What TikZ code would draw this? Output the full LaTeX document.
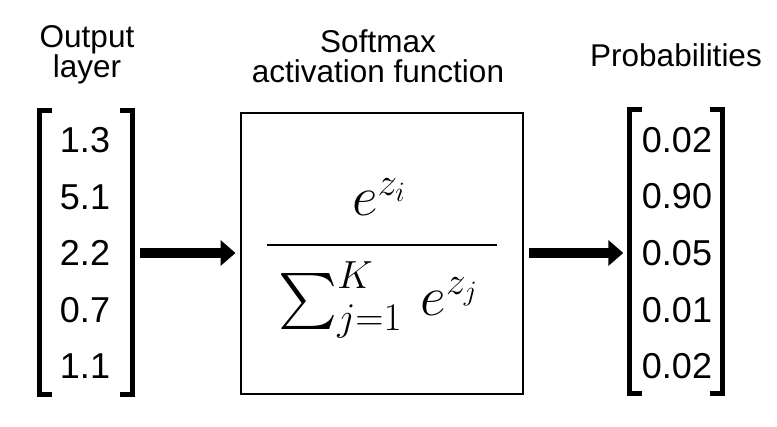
\RequirePackage{fix-cm}
\documentclass[tikz,border=0pt]{standalone}
\usepackage{fontspec}
\setmainfont{Liberation Sans}
\DeclareFontShape{OMX}{cmex}{m}{n}{<->cmex10}{}
\usetikzlibrary{arrows.meta}
\tikzset{
  ttl/.style={font=\fontsize{31.5}{32}\selectfont, align=center, inner sep=0pt},
  num/.style={font=\fontsize{36}{38}\selectfont, inner sep=0pt, anchor=center},
  brk/.style={line width=5pt, line join=miter, line cap=butt},
  vec/.style={inner sep=0pt, minimum width=93pt, minimum height=283pt},
  fbox/.style={draw, line width=2pt, minimum width=282pt, minimum height=281pt},
  bigarrow/.style={line width=10pt, -{Triangle[length=15pt,width=25pt]}},
  mth/.style={font=\fontsize{56}{60}\selectfont, inner sep=0pt}
}
\begin{document}
\begin{tikzpicture}[x=1pt,y=-1pt]
\useasboundingbox (0,0) rectangle (777,427);
% titles
\node[ttl] (t1) at (87,55) {Output\\[-2pt]layer};
\node[ttl] (t2) at (378,56) {Softmax\\[-2pt]activation function};
\node[ttl] (t3) at (676,55) {Probabilities};
% left vector
\node[vec] (in) at (86,252.5) {};
\draw[brk] ([xshift=13pt]in.north west) -- (in.north west) -- (in.south west) -- ([xshift=13pt]in.south west);
\draw[brk] ([xshift=-13pt]in.north east) -- (in.north east) -- (in.south east) -- ([xshift=-13pt]in.south east);
\node[num] (a1) at (85,140) {1.3};
\node[num] (a2) at (85,197) {5.1};
\node[num] (a3) at (85,253) {2.2};
\node[num] (a4) at (85,310) {0.7};
\node[num] (a5) at (85,366) {1.1};
% softmax box
\node[fbox] (box) at (381.5,254) {};
\node[mth] (numr) at (379,197) {$e^{z_i}$};
\node[mth] (denr) at (378,300) {$\sum_{j=1}^{K}\, e^{z_j}$};
\coordinate (bl) at (267,245);
\coordinate (br) at (497,245);
\draw[line width=2.4pt] (bl) -- (br);
% right vector
\node[vec] (out) at (676,251.5) {};
\draw[brk] ([xshift=13pt]out.north west) -- (out.north west) -- (out.south west) -- ([xshift=13pt]out.south west);
\draw[brk] ([xshift=-13pt]out.north east) -- (out.north east) -- (out.south east) -- ([xshift=-13pt]out.south east);
\node[num] (b1) at (677,140) {0.02};
\node[num] (b2) at (677,196) {0.90};
\node[num] (b3) at (677,253) {0.05};
\node[num] (b4) at (677,310) {0.01};
\node[num] (b5) at (677,366) {0.02};
% arrows
\draw[bigarrow] ([xshift=7pt]in.east |- a3) -- ([xshift=-4pt]box.west |- a3);
\draw[bigarrow] ([xshift=5pt]box.east |- b3) -- ([xshift=-6pt]out.west |- b3);
\end{tikzpicture}
\end{document}
